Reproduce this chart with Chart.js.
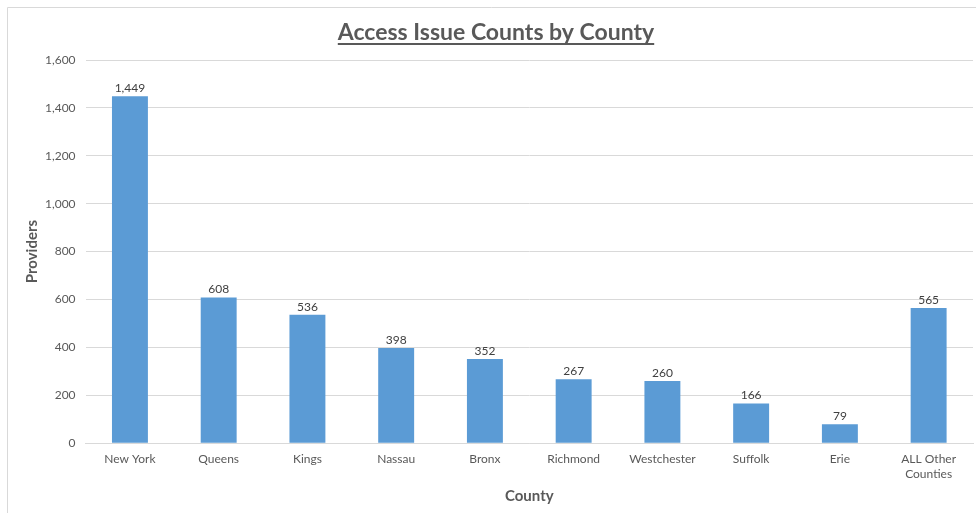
<!DOCTYPE html>
<html>
<head>
<meta charset="utf-8">
<script src="https://cdn.jsdelivr.net/npm/chart.js@4"></script>
<style>
  html, body { margin: 0; padding: 0; background: #fff; }
  #wrap { width: 976px; height: 513px; }
</style>
</head>
<body>
<div id="wrap"><canvas id="chart"></canvas></div>
<script>
const counties = ['New York', 'Queens', 'Kings', 'Nassau', 'Bronx', 'Richmond', 'Westchester', 'Suffolk', 'Erie', ['ALL Other', 'Counties']];
const providers = [1449, 608, 536, 398, 352, 267, 260, 166, 79, 565];
const yMax = 1600;
const yStep = 200;

const fontFamily = 'Lato, "Open Sans", sans-serif';
const textGray = '#595959';

// title + frame lines + value labels
const extras = {
  id: 'extras',
  beforeDraw(chart) {
    const c = chart.ctx;
    c.save();
    c.strokeStyle = '#d9d9d9';
    c.lineWidth = 1;
    c.beginPath();
    c.moveTo(7.5, chart.height);
    c.lineTo(7.5, 7.5);
    c.lineTo(chart.width, 7.5);
    c.stroke();
    c.restore();
  },
  afterDraw(chart) {
    const c = chart.ctx;
    c.save();
    // title
    c.font = 'bold 23px ' + fontFamily;
    c.fillStyle = textGray;
    c.textAlign = 'center';
    c.textBaseline = 'alphabetic';
    const title = 'Access Issue Counts by County';
    const tx = 496, ty = 40;
    c.fillText(title, tx, ty);
    const w = c.measureText(title).width;
    c.fillRect(tx - w / 2, ty + 3, w, 2);

    // value labels
    c.font = '12px ' + fontFamily;
    c.fillStyle = '#404040';
    c.textBaseline = 'bottom';
    const meta = chart.getDatasetMeta(0);
    meta.data.forEach((bar, i) => {
      c.fillText(providers[i].toLocaleString('en-US'), bar.x, bar.y - 2);
    });
    c.restore();
  }
};

new Chart(document.getElementById('chart'), {
  type: 'bar',
  data: {
    labels: counties,
    datasets: [{
      data: providers,
      backgroundColor: '#5b9bd5',
      categoryPercentage: 0.81,
      barPercentage: 0.5,
    }],
  },
  options: {
    responsive: true,
    maintainAspectRatio: false,
    animation: false,
    layout: { padding: { top: 60, right: 3, left: 23, bottom: 4 } },
    plugins: {
      legend: { display: false },
      tooltip: { enabled: false },
    },
    scales: {
      x: {
        grid: { display: false },
        border: { color: '#d9d9d9' },
        ticks: { color: textGray, font: { family: fontFamily, size: 12 }, maxRotation: 0, padding: 1 },
        title: { display: true, text: 'County', color: textGray, font: { family: fontFamily, size: 15, weight: 'bold' }, padding: { top: 5 } },
      },
      y: {
        min: 0,
        max: yMax,
        grid: { color: '#d9d9d9', drawTicks: false },
        border: { display: false },
        ticks: {
          stepSize: yStep,
          color: textGray,
          padding: 10,
          font: { family: fontFamily, size: 12 },
          callback: v => v.toLocaleString('en-US'),
        },
        title: { display: true, text: 'Providers', color: textGray, font: { family: fontFamily, size: 15, weight: 'bold' }, padding: { top: 0, bottom: -6 } },
      },
    },
  },
  plugins: [extras],
});
</script>
</body>
</html>
